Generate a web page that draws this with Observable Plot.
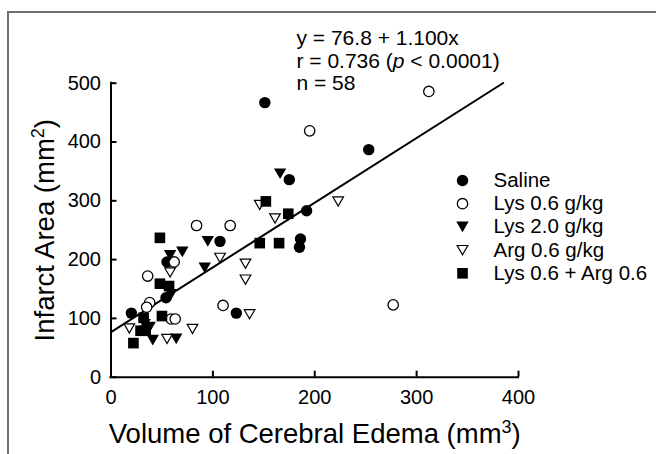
<!DOCTYPE html>
<html>
<head>
<meta charset="utf-8">
<script src="https://cdn.jsdelivr.net/npm/d3@7"></script>
<script src="https://cdn.jsdelivr.net/npm/@observablehq/plot@0.6"></script>
<style>
  html, body { margin: 0; padding: 0; background: #fff; }
  #wrap { position: relative; width: 656px; height: 454px; overflow: hidden; }
  #wrap svg { display: block; }
  #border { position: absolute; left: 7px; top: 11px; width: 700px; height: 500px;
            border-top: 2px solid #707070; border-left: 2px solid #707070; pointer-events: none; }
</style>
</head>
<body>
<div id="wrap"><div id="border"></div></div>
<script>
// ---- data ----
const xTicks = [0, 100, 200, 300, 400];
const yTicks = [0, 100, 200, 300, 400, 500];

const groupNames = ["Saline", "Lys 0.6 g/kg", "Lys 2.0 g/kg", "Arg 0.6 g/kg", "Lys 0.6 + Arg 0.6"];

const salineX = [151, 175, 192, 107, 186, 185, 253, 55, 54, 123, 20];
const salineY = [467, 336, 283, 231, 235, 221, 387, 196, 135, 109, 109];

const lys06X = [195, 312, 277, 84, 117, 62, 36, 38, 35, 110, 59, 63];
const lys06Y = [419, 486, 123, 258, 258, 196, 172, 127, 119, 122, 99, 99];

const lys20X = [166, 95, 58, 70, 92, 59, 38, 33, 41, 64];
const lys20Y = [346, 231, 207, 213, 186, 141, 85, 90, 63, 65];

const arg06X = [146, 161, 223, 107, 58, 132, 132, 136, 18, 55, 80];
const arg06Y = [293, 270, 299, 203, 178, 193, 166, 107, 83, 65, 82];

const comboX = [152, 174, 48, 146, 165, 48, 57, 50, 32, 29, 34, 22];
const comboY = [299, 278, 237, 228, 228, 159, 155, 104, 101, 79, 79, 58];

const intercept = 76.8, slope = 1.100;
const fitX = [0, 385];

const statLines = ["y = 76.8 + 1.100x", "r = 0.736 (p < 0.0001)", "n = 58"];
const xTitle = "Volume of Cerebral Edema (mm3)";
const yTitle = "Infarct Area (mm2)";

// ---- build ----
const toPts = (xs, ys) => xs.map((x, i) => ({x, y: ys[i]}));
const fitPts = fitX.map(x => ({x, y: intercept + slope * x}));

const triDown = {
  draw(ctx, size) {
    const w = Math.sqrt(size) * 1.25, h = w * 0.866;
    ctx.moveTo(-w / 2, -h / 2);
    ctx.lineTo(w / 2, -h / 2);
    ctx.lineTo(0, h / 2);
    ctx.closePath();
  }
};

const styles = [
  {symbol: "circle", r: 5.7, fill: "black", stroke: "none"},
  {symbol: "circle", r: 5.2, fill: "white", stroke: "black", strokeWidth: 1.3},
  {symbol: triDown, r: 5.6, fill: "black", stroke: "none"},
  {symbol: triDown, r: 4.8, fill: "white", stroke: "black", strokeWidth: 1.2},
  {symbol: "square", r: 6, fill: "black", stroke: "none"}
];
const groups = [
  toPts(salineX, salineY),
  toPts(lys06X, lys06Y),
  toPts(lys20X, lys20Y),
  toPts(arg06X, arg06Y),
  toPts(comboX, comboY)
];

const W = 656, H = 454;
const mL = 110.5, mR = 138, mT = 82.7, mB = 77.3;
const plotW = W - mL - mR, plotH = H - mT - mB;
const TICK_FS = 20, LEG_FS = 20.5, STAT_FS = 21, TITLE_FS = 27.5;

const marks = [
  Plot.ruleX([0], {strokeWidth: 2, strokeLinecap: "square"}),
  Plot.ruleY([0], {strokeWidth: 2, strokeLinecap: "square"}),
  Plot.tickX(xTicks, {x: d => d, insetTop: plotH - 6, strokeWidth: 2}),
  Plot.tickY(yTicks, {y: d => d, insetRight: plotW - 6, strokeWidth: 2}),
  Plot.axisX(xTicks, {tickSize: 0, tickPadding: 13, label: null, fontSize: TICK_FS}),
  Plot.axisY(yTicks, {tickSize: 0, tickPadding: 10, label: null, fontSize: TICK_FS}),
  Plot.line(fitPts, {x: "x", y: "y", strokeWidth: 2}),
];

groups.forEach((g, i) => {
  marks.push(Plot.dot(g, {x: "x", y: "y", ...styles[i]}));
});

// legend
groupNames.forEach((name, i) => {
  const dy = 180 - mT + 23.2 * i;
  marks.push(Plot.dot([name], {frameAnchor: "top-left", dx: 462 - mL, dy, ...styles[i]}));
  marks.push(Plot.text([name], {frameAnchor: "top-left", dx: 493 - mL, dy, text: d => d,
    textAnchor: "start", lineAnchor: "middle", fontSize: LEG_FS}));
});

// regression stats
statLines.forEach((s, i) => {
  marks.push(Plot.text([s], {frameAnchor: "top-left", dx: 296 - mL, dy: 38 - mT + 22.5 * i,
    text: d => d, textAnchor: "start", lineAnchor: "middle", fontSize: STAT_FS}));
});

// axis titles
marks.push(Plot.text([xTitle], {frameAnchor: "bottom", dy: 434 - (H - mB), text: d => d,
  textAnchor: "middle", lineAnchor: "middle", fontSize: TITLE_FS}));
marks.push(Plot.text([yTitle], {frameAnchor: "left", dx: 45 - mL, rotate: -90, text: d => d,
  textAnchor: "middle", lineAnchor: "middle", fontSize: TITLE_FS}));

const chart = Plot.plot({
  width: W, height: H,
  marginLeft: mL, marginRight: mR, marginTop: mT, marginBottom: mB,
  x: {domain: [0, 400]},
  y: {domain: [0, 500]},
  style: {fontFamily: "'Liberation Sans', Arial, Helvetica, sans-serif", fontSize: TICK_FS + "px",
          color: "black", background: "transparent", overflow: "visible"},
  marks
});
document.getElementById("wrap").prepend(chart);

// rich text fix-ups (italic p, superscripts)
const svg = d3.select(chart);
svg.selectAll("text").each(function() {
  const t = this.textContent;
  const el = d3.select(this);
  if (t === statLines[1]) {
    el.text(null);
    el.append("tspan").text("r = 0.736 (");
    el.append("tspan").attr("font-style", "italic").text("p");
    el.append("tspan").text(" < 0.0001)");
  } else if (t === xTitle || t === yTitle) {
    const sup = t === xTitle ? "3" : "2";
    el.text(null);
    el.append("tspan").text(t.slice(0, -2));
    el.append("tspan").attr("dy", "-10").attr("font-size", 18).text(sup);
    el.append("tspan").attr("dy", "10").text(")");
  }
});
</script>
</body>
</html>
